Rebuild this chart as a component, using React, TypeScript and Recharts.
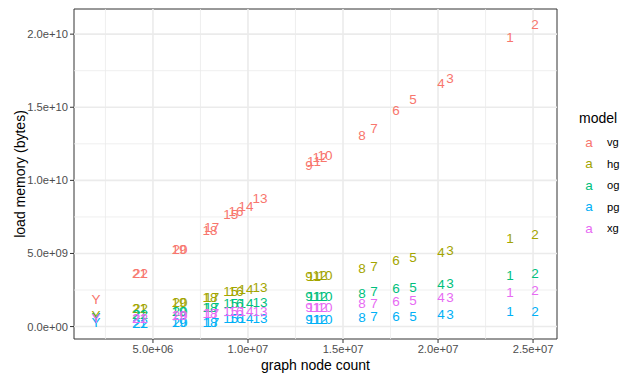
import { ScatterChart, Scatter, XAxis, YAxis, ReferenceLine, ReferenceArea } from "recharts"

const FONT = '"Liberation Sans", Arial, Helvetica, sans-serif'

// graph ids, same graphs for every model
const graphs = ["1", "2", "3", "4", "5", "6", "7", "8", "9", "10", "11", "12", "13", "14", "15", "16", "17", "18", "19", "20", "21", "22", "Y"]

// graph node count (millions)
const nodeCount = [23.79, 25.1, 20.63, 20.16, 18.68, 17.79, 16.63, 16.0, 13.21, 14.05, 13.47, 13.79, 10.63, 9.89, 9.1, 9.37, 8.1, 8.0, 6.37, 6.42, 4.29, 4.34, 2.0]

// load memory (GB) per model
const vg = [19.76, 20.65, 16.94, 16.6, 15.5, 14.75, 13.58, 13.1, 11.04, 11.73, 11.32, 11.59, 8.78, 8.23, 7.68, 7.89, 6.79, 6.59, 5.3, 5.26, 3.66, 3.62, 1.85]
const hg = [6.04, 6.31, 5.21, 5.08, 4.73, 4.53, 4.12, 3.98, 3.43, 3.5, 3.43, 3.5, 2.68, 2.54, 2.4, 2.42, 1.99, 1.97, 1.66, 1.64, 1.24, 1.22, 0.75]
const og = [3.5, 3.64, 2.95, 2.88, 2.68, 2.61, 2.4, 2.26, 2.06, 2.08, 2.06, 2.08, 1.65, 1.58, 1.56, 1.58, 1.3, 1.29, 1.03, 1.02, 0.82, 0.81, 0.62]
const pg = [1.03, 1.03, 0.82, 0.82, 0.69, 0.69, 0.69, 0.62, 0.48, 0.48, 0.48, 0.48, 0.55, 0.55, 0.55, 0.55, 0.27, 0.27, 0.27, 0.27, 0.21, 0.21, 0.27]
const xg = [2.33, 2.47, 1.99, 1.99, 1.78, 1.72, 1.58, 1.58, 1.3, 1.3, 1.3, 1.3, 1.03, 1.03, 1.03, 1.03, 0.89, 0.89, 0.75, 0.75, 0.55, 0.55, 0.55]

const models = [
  { name: "vg", values: vg, color: "#F8766D" },
  { name: "hg", values: hg, color: "#A3A500" },
  { name: "og", values: og, color: "#00BF7D" },
  { name: "pg", values: pg, color: "#00B0F6" },
  { name: "xg", values: xg, color: "#E76BF3" },
]

const xTicks = [5e6, 1e7, 1.5e7, 2e7, 2.5e7]
const yTicks = [0, 5e9, 1e10, 1.5e10, 2e10]
const xMinor = [2.5e6, 7.5e6, 1.25e7, 1.75e7, 2.25e7]
const yMinor = [2.5e9, 7.5e9, 1.25e10, 1.75e10]

const X_DOMAIN: [number, number] = [0.845e6, 26.26e6]
const Y_DOMAIN: [number, number] = [-0.85e9, 21.72e9]

function sci(v: number) {
  const [m, e] = v.toExponential(1).split("e")
  const n = Number(e)
  const sign = n < 0 ? "-" : "+"
  const abs = Math.abs(n)
  return `${m}e${sign}${abs < 10 ? "0" + abs : abs}`
}

const series = models.map((m) => ({
  ...m,
  data: graphs.map((g, i) => ({ label: g, x: nodeCount[i] * 1e6, y: m.values[i] * 1e9 })),
}))

const tickStyle = { fontSize: 11.2, fill: "#4D4D4D", fontFamily: FONT }

export default function App() {
  return (
    <div style={{ position: "absolute", left: 0, top: 0, width: 621, height: 374, background: "#fff", fontFamily: FONT }}>
      <ScatterChart width={621} height={374} margin={{ top: 9, right: 64, bottom: 0, left: 10 }}>
        <XAxis
          type="number"
          dataKey="x"
          domain={X_DOMAIN}
          allowDataOverflow
          ticks={xTicks}
          tickFormatter={sci}
          tick={tickStyle}
          tickSize={4}
          tickLine={{ stroke: "#333333" }}
          axisLine={false}
          height={35}
          label={{
            content: (p: any) => {
              const vb = p.viewBox
              return (
                <text x={vb.x + vb.width / 2} y={vb.y + 31} textAnchor="middle" fontSize={14} fill="#000" fontFamily={FONT}>
                  graph node count
                </text>
              )
            },
          }}
        />
        <YAxis
          type="number"
          dataKey="y"
          domain={Y_DOMAIN}
          allowDataOverflow
          ticks={yTicks}
          tickFormatter={sci}
          tick={tickStyle}
          tickSize={4}
          tickLine={{ stroke: "#333333" }}
          axisLine={false}
          width={64}
          label={{
            content: (p: any) => {
              const vb = p.viewBox
              const cx = vb.x + 10
              const cy = vb.y + vb.height / 2
              return (
                <text x={cx} y={cy} transform={`rotate(-90 ${cx} ${cy})`} textAnchor="middle" dominantBaseline="central" fontSize={14} fill="#000" fontFamily={FONT}>
                  load memory (bytes)
                </text>
              )
            },
          }}
        />
        {xMinor.map((v) => (
          <ReferenceLine key={"xm" + v} x={v} stroke="#EBEBEB" strokeWidth={0.8} />
        ))}
        {yMinor.map((v) => (
          <ReferenceLine key={"ym" + v} y={v} stroke="#EBEBEB" strokeWidth={0.8} />
        ))}
        {xTicks.map((v) => (
          <ReferenceLine key={"xM" + v} x={v} stroke="#EBEBEB" strokeWidth={1.6} />
        ))}
        {yTicks.map((v) => (
          <ReferenceLine key={"yM" + v} y={v} stroke="#EBEBEB" strokeWidth={1.6} />
        ))}
        {series.map((s) => (
          <Scatter
            key={s.name}
            name={s.name}
            data={s.data}
            isAnimationActive={false}
            shape={(props: any) => (
              <text
                x={props.cx}
                y={props.cy}
                textAnchor="middle"
                dominantBaseline="central"
                fontSize={13.5}
                fill={s.color}
                fontFamily={FONT}
              >
                {props.payload.label}
              </text>
            )}
          />
        ))}
        <ReferenceArea
          x1={X_DOMAIN[0]}
          x2={X_DOMAIN[1]}
          y1={Y_DOMAIN[0]}
          y2={Y_DOMAIN[1]}
          fill="none"
          fillOpacity={0}
          stroke="#333333"
          strokeWidth={1}
        />
      </ScatterChart>
      <svg width={621} height={374} style={{ position: "absolute", left: 0, top: 0, pointerEvents: "none" }}>
        <text x={579} y={118} dominantBaseline="central" fontSize={14} fill="#000" fontFamily={FONT}>
          model
        </text>
        {models.map((m, i) => (
          <g key={m.name}>
            <text x={589} y={142 + i * 21.6} textAnchor="middle" dominantBaseline="central" fontSize={13.5} fill={m.color} fontFamily={FONT}>
              a
            </text>
            <text x={607} y={142 + i * 21.6} dominantBaseline="central" fontSize={11.2} fill="#000" fontFamily={FONT}>
              {m.name}
            </text>
          </g>
        ))}
      </svg>
    </div>
  )
}
